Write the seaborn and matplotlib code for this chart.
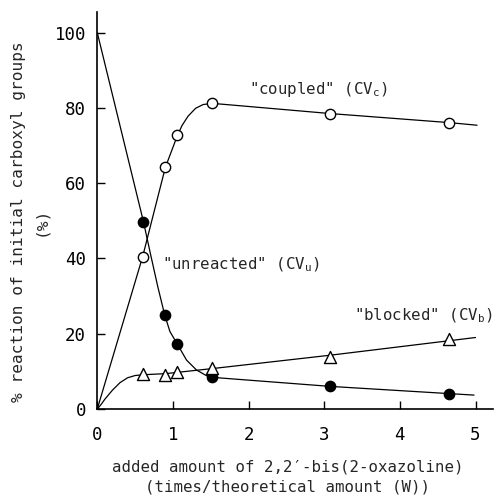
import numpy as np
import pandas as pd
import matplotlib
matplotlib.use("Agg")
import matplotlib.pyplot as plt
import seaborn as sns

# ---- data ----
x_pts = [0.60, 0.90, 1.06, 1.52, 3.08, 4.65]
coupled = [40.5, 64.2, 72.7, 81.2, 78.5, 76.1]
unreacted = [49.8, 25.1, 17.4, 8.4, 6.0, 4.0]
blocked = [9.4, 9.0, 9.9, 10.8, 13.9, 18.6]

# hand-drawn guide curves
coupled_cx = [0.0, 0.60, 0.90, 1.06, 1.12, 1.20, 1.30, 1.40, 1.52, 1.70, 3.08, 4.65, 5.02]
coupled_cy = [0.0, 40.5, 64.2, 72.7, 75.3, 77.8, 79.9, 80.9, 81.2, 80.9, 78.5, 76.1, 75.4]
unreacted_cx = [0.0, 0.61, 0.70, 0.80, 0.89, 0.96, 1.06, 1.18, 1.31, 1.44, 1.53, 3.09, 4.98]
unreacted_cy = [100.0, 49.8, 41.5, 32.5, 25.1, 20.6, 17.2, 13.0, 10.4, 8.9, 8.4, 6.0, 3.7]
blocked_cx = [0.0, 0.05, 0.10, 0.20, 0.30, 0.40, 0.50, 0.60, 0.90, 1.50, 3.08, 5.0]
blocked_cy = [0.0, 1.2, 2.6, 5.0, 7.0, 8.3, 8.9, 9.1, 9.4, 10.7, 14.3, 19.0]

x_ticks = [0, 1, 2, 3, 4, 5]
y_ticks = [0, 20, 40, 60, 80, 100]

sns.set_theme(style="ticks")
plt.rcParams["font.family"] = ["DejaVu Sans Mono", "DejaVu Sans"]
plt.rcParams["mathtext.fontset"] = "custom"
plt.rcParams["mathtext.rm"] = "DejaVu Sans Mono"

fig = plt.figure(figsize=(5.04, 4.97), dpi=100)
ax = fig.add_axes([0.193, 0.177, 0.785, 0.799])

lw = 0.9
for cx, cy in [(coupled_cx, coupled_cy), (unreacted_cx, unreacted_cy), (blocked_cx, blocked_cy)]:
    sns.lineplot(x=cx, y=cy, ax=ax, color="black", linewidth=lw, sort=False, zorder=2)

sns.scatterplot(x=x_pts, y=coupled, ax=ax, marker="o", s=55, facecolor="white",
                edgecolor="black", linewidth=1.0, zorder=3)
sns.scatterplot(x=x_pts, y=unreacted, ax=ax, marker="o", s=55, color="black",
                edgecolor="black", linewidth=1.0, zorder=3)
sns.scatterplot(x=x_pts, y=blocked, ax=ax, marker="^", s=75, facecolor="white",
                edgecolor="black", linewidth=1.0, zorder=3)

ax.set_xlim(0, 5.23)
ax.set_ylim(0, 105.5)
ax.set_xticks(x_ticks)
ax.set_yticks(y_ticks)
ax.tick_params(direction="in", length=6, width=1, labelsize=12.5, colors="black")
ax.tick_params(axis="x", pad=12)
ax.tick_params(axis="y", pad=8)
for s in ["top", "right"]:
    ax.spines[s].set_visible(False)
for s in ["left", "bottom"]:
    ax.spines[s].set_linewidth(1.2)
    ax.spines[s].set_color("black")

fs = 11.3
ax.text(2.0, 84.8, '"coupled" (CV$_\\mathrm{c}$)', fontsize=fs, va="center", ha="left")
ax.text(0.86, 38.3, '"unreacted" (CV$_\\mathrm{u}$)', fontsize=fs, va="center", ha="left")
ax.text(3.40, 24.7, '"blocked" (CV$_\\mathrm{b}$)', fontsize=fs, va="center", ha="left")

ax.set_xlabel("added amount of 2,2\u2032-bis(2-oxazoline)\n(times/theoretical amount (W))",
              fontsize=fs, linespacing=1.45)
ax.xaxis.set_label_coords(0.482, -0.127)
ax.set_ylabel("% reaction of initial carboxyl groups\n(%)", fontsize=11.6, linespacing=1.55)
ax.yaxis.set_label_coords(-0.125, 0.472)

fig.savefig("out.png", dpi=100)
